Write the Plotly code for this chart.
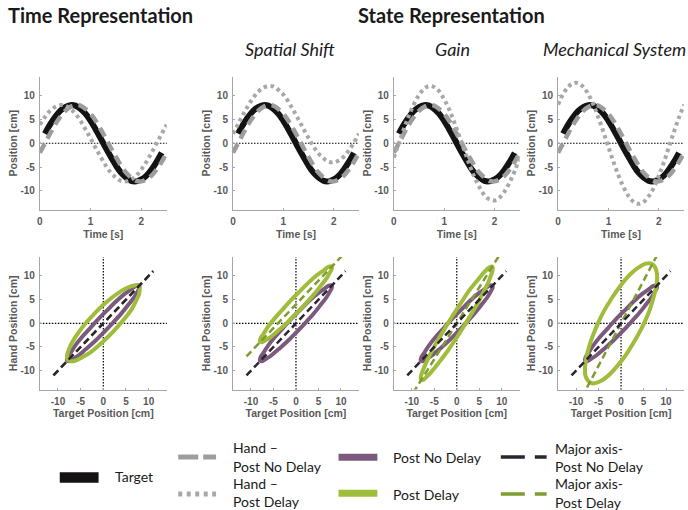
import numpy as np
import plotly.graph_objects as go
from plotly.subplots import make_subplots

# ---------------- data ----------------
TIME_S = [0.0, 0.1, 0.2, 0.3, 0.4, 0.5, 0.6, 0.7, 0.8, 0.9, 1.0, 1.1, 1.2,
          1.3, 1.4, 1.5, 1.6, 1.7, 1.8, 1.9, 2.0, 2.1, 2.2, 2.3, 2.4, 2.5]
TARGET_CM = [0.0, 2.0, 3.9, 5.5, 6.8, 7.6, 8.0, 7.9, 7.2, 6.2, 4.7, 2.9, 1.0,
             -1.0, -2.9, -4.7, -6.2, -7.2, -7.9, -8.0, -7.6, -6.8, -5.5, -3.9, -2.0, 0.0]
HAND_NO_DELAY_CM = [-2.0, 0.0, 2.0, 3.9, 5.5, 6.8, 7.6, 8.0, 7.9, 7.2, 6.2, 4.7, 2.9,
                    1.0, -1.0, -2.9, -4.7, -6.2, -7.2, -7.9, -8.0, -7.6, -6.8, -5.5, -3.9, -2.0]
HAND_DELAY_TIME_CM = [3.9, 5.5, 6.8, 7.6, 8.0, 7.9, 7.2, 6.2, 4.7, 2.9, 1.0, -1.0, -2.9,
                      -4.7, -6.2, -7.2, -7.9, -8.0, -7.6, -6.8, -5.5, -3.9, -2.0, 0.0, 2.0, 3.9]
HAND_DELAY_SHIFT_CM = [2.0, 4.0, 6.0, 7.9, 9.5, 10.8, 11.6, 12.0, 11.9, 11.2, 10.2, 8.7, 6.9,
                       5.0, 3.0, 1.1, -0.7, -2.2, -3.2, -3.9, -4.0, -3.6, -2.8, -1.5, 0.1, 2.0]
HAND_DELAY_GAIN_CM = [-3.0, 0.0, 3.0, 5.8, 8.2, 10.1, 11.4, 12.0, 11.8, 10.9, 9.2, 7.1, 4.4,
                      1.5, -1.5, -4.4, -7.1, -9.2, -10.9, -11.8, -12.0, -11.4, -10.1, -8.2, -5.8, -3.0]
HAND_DELAY_MECH_CM = [8.1, 10.3, 11.8, 12.6, 12.6, 11.8, 10.3, 8.1, 5.4, 2.4, -0.8, -3.9, -6.8,
                      -9.2, -11.1, -12.3, -12.7, -12.3, -11.1, -9.3, -6.8, -4.0, -0.8, 2.4, 5.4, 8.1]
TARGET_SHOWN = slice(1, 25)          # target trace drawn from 0.1 s to 2.4 s
MAJOR_AXIS_X = [-11, 11]             # extent of the major-axis lines (target cm)

PANEL_TITLES = ["", "Spatial Shift", "Gain", "Mechanical System"]
HAND_DELAY = [HAND_DELAY_TIME_CM, HAND_DELAY_SHIFT_CM, HAND_DELAY_GAIN_CM, HAND_DELAY_MECH_CM]

TIME_TICKS = [0, 1, 2]
POS_TICKS = [-10, -5, 0, 5, 10]
POS_TICK_TEXT = ["-10", "-5", "0", "5", "10"]

# ---------------- styles ----------------
W, H = 688, 510
BLACK = "#151213"
GRAY_DASH = "#9d9d9d"
GRAY_DOT = "#a8a8a8"
PURPLE = "#7b5a7e"
GREEN = "#9fbd3a"
AX_BLACK = "#2c2433"
AX_GREEN = "#7f9c33"
TICK_COLOR = "#595959"
AXLINE = "#a6a6a6"

COL_X = [(37, 164.5), (231, 357.5), (392.5, 519), (557.5, 684)]
ROW_Y = [(76.5, 210), (257, 389.6)]


def px(x):
    return x / W


def py(y):
    return 1 - y / H


def major_axis(x, y):
    xa = np.array(x[:-1], float)
    ya = np.array(y[:-1], float)
    cx, cy = xa.mean(), ya.mean()
    w, v = np.linalg.eigh(np.cov(xa, ya))
    vec = v[:, np.argmax(w)]
    slope = vec[1] / vec[0]
    xs = np.array(MAJOR_AXIS_X, float)
    return xs, cy + slope * (xs - cx)


fig = make_subplots(rows=2, cols=4)

for c in range(1, 5):
    hd = HAND_DELAY[c - 1]
    # ---- time representation (top row)
    fig.add_trace(go.Scatter(x=TIME_S[TARGET_SHOWN], y=TARGET_CM[TARGET_SHOWN], mode="lines",
                             line=dict(color=BLACK, width=6, shape="spline")), row=1, col=c)
    fig.add_trace(go.Scatter(x=TIME_S, y=HAND_NO_DELAY_CM, mode="lines",
                             line=dict(color=GRAY_DASH, width=4.5, dash="10px,6px", shape="spline")),
                  row=1, col=c)
    fig.add_trace(go.Scatter(x=TIME_S, y=hd, mode="lines",
                             line=dict(color=GRAY_DOT, width=4, dash="3.5px,3.5px", shape="spline")),
                  row=1, col=c)
    # ---- state representation (bottom row)
    fig.add_trace(go.Scatter(x=TARGET_CM, y=HAND_NO_DELAY_CM, mode="lines",
                             line=dict(color=PURPLE, width=4, shape="spline")), row=2, col=c)
    fig.add_trace(go.Scatter(x=TARGET_CM, y=hd, mode="lines",
                             line=dict(color=GREEN, width=4, shape="spline")), row=2, col=c)
    gx, gy = major_axis(TARGET_CM, hd)
    bx, by = major_axis(TARGET_CM, HAND_NO_DELAY_CM)
    fig.add_trace(go.Scatter(x=gx, y=gy, mode="lines",
                             line=dict(color=AX_GREEN, width=2.5, dash="7px,4px")), row=2, col=c)
    fig.add_trace(go.Scatter(x=bx, y=by, mode="lines",
                             line=dict(color=AX_BLACK, width=2.5, dash="7px,4px")), row=2, col=c)

    zline = dict(color="black", width=1.2, dash="1.5px,1.5px")
    fig.add_hline(y=0, row=1, col=c, line=zline, layer="below")
    fig.add_hline(y=0, row=2, col=c, line=zline, layer="below")
    fig.add_vline(x=0, row=2, col=c, line=zline, layer="below")

tickfont = dict(family="Liberation Sans", size=10, color=TICK_COLOR, weight="bold")
titlefont = dict(family="Liberation Sans", size=10.5, color=TICK_COLOR, weight="bold")
common = dict(showline=True, linecolor=AXLINE, linewidth=1, showgrid=False, zeroline=False,
              ticks="inside", ticklen=2, tickcolor=AXLINE, tickfont=tickfont, mirror=False,
              ticklabelstandoff=2)

for c in range(1, 5):
    x0, x1 = COL_X[c - 1]
    for r in (1, 2):
        y0, y1 = ROW_Y[r - 1]
        if r == 1:
            fig.update_xaxes(row=r, col=c, domain=[px(x0), px(x1)], range=[0, 2.5],
                             tickvals=TIME_TICKS, title=dict(text="Time [s]", font=titlefont, standoff=4),
                             **common)
            fig.update_yaxes(row=r, col=c, domain=[py(y1), py(y0)], range=[-14, 14],
                             tickvals=POS_TICKS, ticktext=POS_TICK_TEXT,
                             title=dict(text="Position [cm]", font=titlefont, standoff=0), **common)
        else:
            fig.update_xaxes(row=r, col=c, domain=[px(x0), px(x1)], range=[-14, 14],
                             tickvals=POS_TICKS, ticktext=POS_TICK_TEXT,
                             title=dict(text="Target Position [cm]", font=titlefont, standoff=4),
                             **common)
            fig.update_yaxes(row=r, col=c, domain=[py(y1), py(y0)], range=[-14, 14],
                             tickvals=POS_TICKS, ticktext=POS_TICK_TEXT,
                             title=dict(text="Hand Position [cm]", font=titlefont, standoff=0), **common)

annotations = []


def text(x, y, s, size=14, weight="normal", style="normal", xanchor="left"):
    annotations.append(dict(x=px(x), y=py(y), xref="paper", yref="paper", text=s, showarrow=False,
                            xanchor=xanchor, yanchor="middle",
                            font=dict(family="Lato", size=size, color="#1a1a1a",
                                      weight=weight, style=style)))


# headings
text(3, 15, "Time Representation", size=20, weight="bold")
text(355, 15, "State Representation", size=20, weight="bold")
sub_x = [None, 288, 451, 614]
for c in range(2, 5):
    text(sub_x[c - 1], 49, PANEL_TITLES[c - 1], size=18, style="italic", xanchor="center")

# legend
shapes = []


def key(x0, x1, y, color, width, dash="solid"):
    shapes.append(dict(type="line", xref="paper", yref="paper", x0=px(x0), x1=px(x1),
                       y0=py(y), y1=py(y), line=dict(color=color, width=width, dash=dash)))


key(57, 96, 477.5, BLACK, 10.5)
text(110, 476, "Target")
key(176, 214, 457, GRAY_DASH, 5, "20px,5px")
text(229, 447.5, "Hand –")
text(229, 466, "Post No Delay")
key(176, 214, 494, GRAY_DOT, 5, "4px,4.5px")
text(229, 483.5, "Hand –")
text(229, 501.5, "Post Delay")
key(337, 376, 457.3, PURPLE, 7)
text(390, 457.7, "Post No Delay")
key(337, 376, 493.3, GREEN, 7)
text(390, 494, "Post Delay")
key(500, 546, 457, AX_BLACK, 3.5, "24px,10px")
text(552.5, 448.3, "Major axis-")
text(552.5, 466.7, "Post No Delay")
key(500, 546, 494, AX_GREEN, 3.5, "24px,10px")
text(552.5, 483.5, "Major axis-")
text(552.5, 502, "Post Delay")

fig.update_layout(width=W, height=H, margin=dict(l=0, r=0, t=0, b=0), showlegend=False,
                  plot_bgcolor="white", paper_bgcolor="white",
                  annotations=list(fig.layout.annotations) + annotations,
                  shapes=list(fig.layout.shapes) + shapes)

fig.write_html("out.html", config={"displayModeBar": False},
               post_script="document.body.style.margin='0px';document.body.style.overflow='hidden';")
